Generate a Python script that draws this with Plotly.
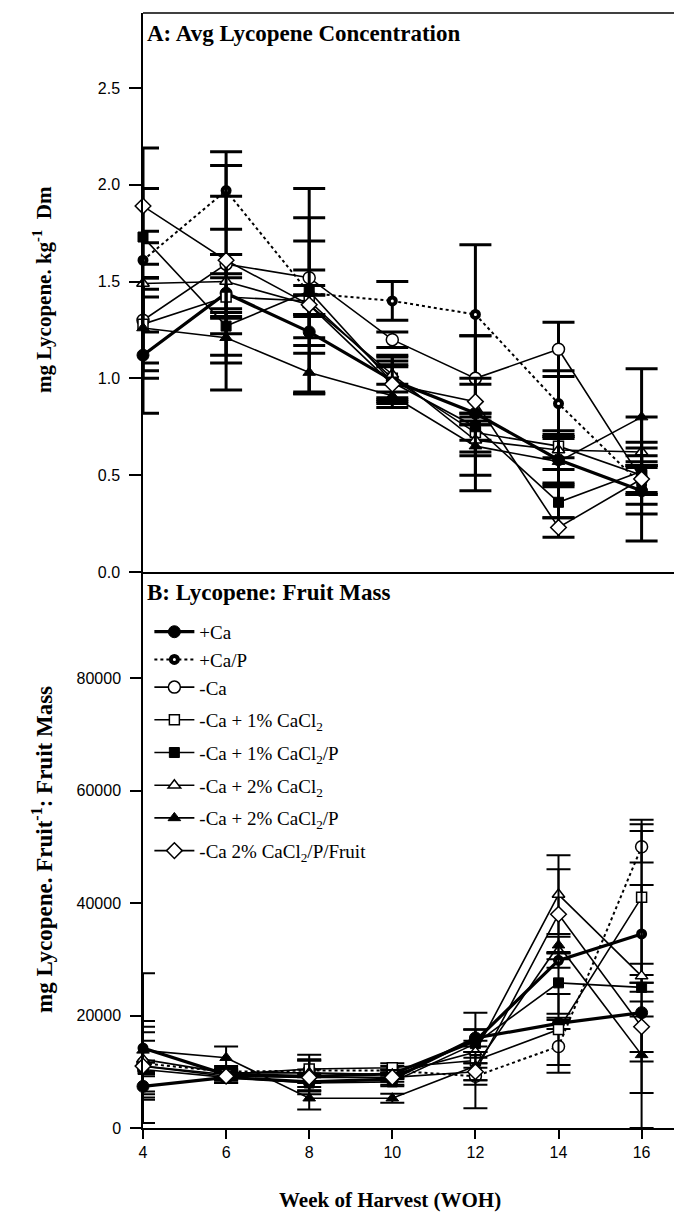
import plotly.graph_objects as go

weeks = [4, 6, 8, 10, 12, 14, 16]
series_names = ["+Ca", "+Ca/P", "-Ca", "-Ca + 1% CaCl<sub>2</sub>", "-Ca + 1% CaCl<sub>2</sub>/P",
                "-Ca + 2% CaCl<sub>2</sub>", "-Ca + 2% CaCl<sub>2</sub>/P", "-Ca 2% CaCl<sub>2</sub>/P/Fruit"]

# Panel A: avg lycopene concentration (mg/kg Dm)
a_ca = [1.12, 1.44, 1.24, 0.99, 0.82, 0.58, 0.42]
a_cap = [1.61, 1.97, 1.44, 1.40, 1.33, 0.87, 0.45]
a_noca = [1.30, 1.59, 1.52, 1.20, 1.00, 1.15, 0.48]
a_1 = [1.28, 1.42, 1.40, 1.00, 0.72, 0.65, 0.50]
a_1p = [1.73, 1.27, 1.45, 0.98, 0.75, 0.36, 0.52]
a_2 = [1.49, 1.50, 1.38, 1.02, 0.68, 0.63, 0.62]
a_2p = [1.26, 1.21, 1.03, 0.91, 0.65, 0.57, 0.80]
a_fruit = [1.89, 1.61, 1.38, 0.97, 0.88, 0.23, 0.48]

a_ca_err = [0.30, 0.50, 0.32, 0.10, 0.40, 0.12, 0.12]
a_cap_err = [0.37, 0.20, 0.27, 0.10, 0.36, 0.17, 0.10]
a_noca_err = [0.22, 0.05, 0.31, 0.04, 0.22, 0.14, 0.32]
a_1_err = [0.24, 0.10, 0.08, 0.12, 0.10, 0.06, 0.10]
a_1p_err = [0.03, 0.04, 0.53, 0.08, 0.07, 0.08, 0.12]
a_2_err = [0.03, 0.14, 0.05, 0.09, 0.08, 0.10, 0.05]
a_2p_err = [0.26, 0.13, 0.10, 0.06, 0.15, 0.12, 0.25]
a_fruit_err = [0.30, 0.49, 0.05, 0.10, 0.12, 0.05, 0.07]

# Panel B: lycopene : fruit mass
b_ca = [7400, 9000, 8200, 8700, 16000, 18600, 20500]
b_cap = [14200, 9500, 9200, 9600, 15500, 29800, 34500]
b_noca = [11500, 10000, 10200, 10200, 9200, 14500, 50000]
b_1 = [11000, 9500, 10500, 10700, 12000, 17500, 41000]
b_1p = [10400, 9000, 8000, 8200, 15000, 25800, 25000]
b_2 = [12200, 9800, 9800, 9500, 13500, 41500, 27000]
b_2p = [13800, 12500, 5300, 5300, 11000, 32500, 13000]
b_fruit = [11000, 9200, 9000, 9000, 10000, 38000, 18000]

b_ca_err = [2400, 1000, 1500, 1000, 1500, 1000, 8700]
b_cap_err = [13300, 1000, 1200, 800, 2000, 1300, 8700]
b_noca_err = [5500, 1000, 2000, 800, 1500, 4700, 2800]
b_1_err = [1000, 800, 1500, 800, 8500, 6300, 13800]
b_1p_err = [1200, 1000, 1500, 800, 2500, 5500, 800]
b_2_err = [6800, 1000, 3200, 800, 2000, 7000, 27000]
b_2p_err = [4200, 2000, 2000, 800, 2500, 1500, 6800]
b_fruit_err = [4500, 800, 3000, 800, 1500, 8000, 4500]

a_vals = [a_ca, a_cap, a_noca, a_1, a_1p, a_2, a_2p, a_fruit]
a_errs = [a_ca_err, a_cap_err, a_noca_err, a_1_err, a_1p_err, a_2_err, a_2p_err, a_fruit_err]
b_vals = [b_ca, b_cap, b_noca, b_1, b_1p, b_2, b_2p, b_fruit]
b_errs = [b_ca_err, b_cap_err, b_noca_err, b_1_err, b_1p_err, b_2_err, b_2p_err, b_fruit_err]

# marker / line styles (symbol, fill, marker line width, size, line width, dash)
styles_a = [
    ("circle", "black", 1, 12, 3.2, "solid"),
    ("circle", "white", 4, 7, 2, "dot"),
    ("circle", "white", 1.5, 12, 1.6, "solid"),
    ("square", "white", 1.5, 10, 1.6, "solid"),
    ("square", "black", 1, 10, 1.6, "solid"),
    ("triangle-up", "white", 1.5, 11, 1.6, "solid"),
    ("triangle-up", "black", 1, 11, 1.6, "solid"),
    ("diamond", "white", 1.5, 12, 1.6, "solid"),
]
styles_b = list(styles_a)
styles_b[1] = ("circle", "white", 4, 7, 3.2, "solid")
styles_b[2] = ("circle", "white", 1.5, 12, 2, "dot")
legend_groups = ["g0", "g0", "g0", "g1", "g2", "g3", "g4", "g5"]

fig = go.Figure()

for i, name in enumerate(series_names):
    sym, fill, mlw, ms, lw, dash = styles_a[i]
    fig.add_trace(go.Scatter(
        x=weeks, y=a_vals[i], name=name, mode="lines+markers", cliponaxis=False,
        line=dict(color="black", width=lw, dash=dash),
        marker=dict(symbol=sym, color=fill, size=ms, line=dict(color="black", width=mlw)),
        error_y=dict(type="data", array=a_errs[i], color="black", thickness=3, width=16),
        xaxis="x", yaxis="y", showlegend=True, legendgroup=legend_groups[i],
    ))

for i, name in enumerate(series_names):
    sym, fill, mlw, ms, lw, dash = styles_b[i]
    fig.add_trace(go.Scatter(
        x=weeks, y=b_vals[i], name=name, mode="lines+markers", cliponaxis=False,
        line=dict(color="black", width=lw, dash=dash),
        marker=dict(symbol=sym, color=fill, size=ms, line=dict(color="black", width=mlw)),
        error_y=dict(type="data", array=b_errs[i], color="black", thickness=2, width=12),
        xaxis="x2", yaxis="y2", showlegend=False,
    ))

W, H = 674, 1213
ml, mr, mt, mb = 143, 0, 13, 85
ph = H - mt - mb
split = (1128 - 572) / ph
xr = [4, 4 + (W - ml - mr) / 41.55]
tickfont = dict(family="Liberation Sans, Arial", size=16, color="black")
serif = "Liberation Serif, Times New Roman"

fig.update_layout(
    width=W, height=H,
    margin=dict(l=ml, r=mr, t=mt, b=mb),
    paper_bgcolor="white", plot_bgcolor="white",
    showlegend=True,
    legend=dict(x=0.012, y=0.462, xanchor="left", yanchor="top", traceorder="grouped",
                font=dict(family=serif, size=19, color="black"),
                bgcolor="rgba(0,0,0,0)", tracegroupgap=5, itemwidth=40),
    xaxis=dict(domain=[0, 1], anchor="y", range=xr, showline=True, mirror=False,
               linecolor="black", linewidth=1.5, showgrid=False, zeroline=False,
               showticklabels=False, ticks="", tickvals=weeks),
    yaxis=dict(domain=[split, 1], anchor="x", range=[0, 2.887], showline=True,
               linecolor="black", linewidth=1.5, showgrid=False, zeroline=False,
               ticks="outside", ticklen=12, tickwidth=1.5, tickcolor="black",
               tickvals=[0, 0.5, 1.0, 1.5, 2.0, 2.5], tickformat=".1f",
               tickfont=tickfont, ticklabelstandoff=6),
    xaxis2=dict(domain=[0, 1], anchor="y2", range=xr, showline=True,
                linecolor="black", linewidth=1.5, showgrid=False, zeroline=False,
                ticks="outside", ticklen=9, tickwidth=1.5, tickcolor="black",
                tickvals=weeks, tickfont=tickfont),
    yaxis2=dict(domain=[0, split], anchor="x2", range=[0, 98844], showline=True,
                linecolor="black", linewidth=1.5, showgrid=False, zeroline=False,
                ticks="outside", ticklen=11, tickwidth=1.5, tickcolor="black",
                tickvals=[0, 20000, 40000, 60000, 80000], tickformat="d",
                tickfont=tickfont, ticklabelstandoff=6),
    shapes=[dict(type="line", xref="paper", yref="paper", x0=0, x1=1, y0=1, y1=1,
                 line=dict(color="black", width=1.5))],
)

def py(pix):
    return (H - mb - pix) / ph

def px(pix):
    return (pix - ml) / (W - ml - mr)

annots = [
    dict(text="<b>A: Avg Lycopene Concentration</b>", x=px(145), y=py(33), xanchor="left", yanchor="middle",
         font=dict(family=serif, size=23, color="black")),
    dict(text="<b>B: Lycopene: Fruit Mass</b>", x=px(145), y=py(593), xanchor="left", yanchor="middle",
         font=dict(family=serif, size=23, color="black")),
    dict(text="<b>mg Lycopene. kg<sup>-1</sup>  Dm</b>", x=px(42), y=py(290), textangle=-90,
         xanchor="center", yanchor="middle", font=dict(family=serif, size=21, color="black")),
    dict(text="<b>mg Lycopene. Fruit<sup>-1</sup>: Fruit Mass</b>", x=px(42), y=py(850), textangle=-90,
         xanchor="center", yanchor="middle", font=dict(family=serif, size=23, color="black")),
    dict(text="<b>Week of Harvest (WOH)</b>", x=px(390), y=py(1200), xanchor="center", yanchor="middle",
         font=dict(family=serif, size=21, color="black")),
]
for a in annots:
    a.update(xref="paper", yref="paper", showarrow=False)
fig.update_layout(annotations=annots)

fig.write_html("out.html")
